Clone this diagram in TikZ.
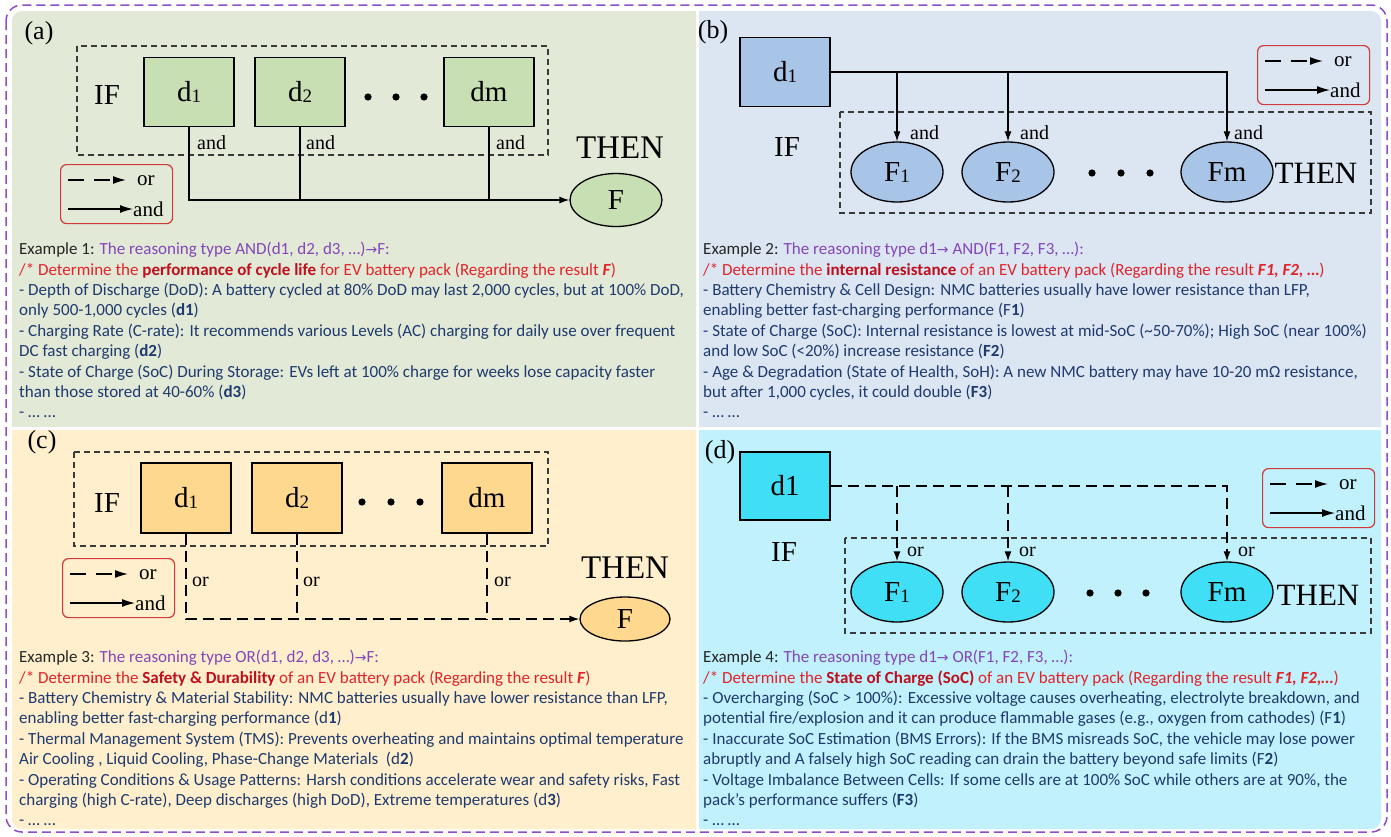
\documentclass[tikz,border=0pt]{standalone}
\usepackage{fontspec}
\setmainfont{Carlito}
\newfontfamily\tnr{Liberation Serif}
\newfontfamily\symf{DejaVu Sans}
\usetikzlibrary{shapes.geometric,arrows.meta}

\definecolor{frame}{HTML}{8E4FC6}
\definecolor{bgA}{HTML}{E2E9D6}
\definecolor{bgB}{HTML}{DCE6F3}
\definecolor{bgC}{HTML}{FFEFCC}
\definecolor{bgD}{HTML}{C0F1FC}
\definecolor{fillA}{HTML}{C7DFB2}
\definecolor{fillB}{HTML}{A8C4E6}
\definecolor{fillC}{HTML}{FDD88E}
\definecolor{fillD}{HTML}{40DFF5}
\definecolor{legred}{HTML}{D03A3A}
\definecolor{exgray}{HTML}{262626}
\definecolor{rpurple}{HTML}{8446B8}
\definecolor{rred}{HTML}{E0242A}
\definecolor{rdred}{HTML}{BE0F1C}
\definecolor{navy}{HTML}{1F3A6E}
\definecolor{boxgray}{HTML}{3A3A3A}

\newcommand\sub[1]{\raisebox{-1pt}{\fontsize{19}{19}\selectfont #1}}
\newcommand\arr{{\symf\fontsize{14}{14}\selectfont →}}
\newcommand\exhead[2]{{\color{exgray}Example #1:} {\color{rpurple}#2}}

\tikzset{
  sqbox/.style={draw=black, line width=1.3pt, minimum width=90pt, minimum height=69pt,
    inner sep=0pt, font=\tnr\fontsize{29}{29}\selectfont},
  ellnode/.style={ellipse, draw=black, line width=1.3pt, minimum width=92pt, minimum height=60pt,
    inner sep=0pt, font=\tnr\fontsize{29}{29}\selectfont},
  ifbox/.style={draw=boxgray, line width=1.1pt, dash pattern=on 6pt off 4pt},
  bigword/.style={font=\tnr\fontsize{29}{29}\selectfont, inner sep=0pt},
  thenword/.style={font=\tnr\fontsize{33}{33}\selectfont, inner sep=0pt},
  tag/.style={font=\tnr\fontsize{26}{26}\selectfont, inner sep=0pt},
  lbl/.style={font=\tnr\fontsize{20}{20}\selectfont, inner sep=0pt, anchor=west},
  legbox/.style={draw=legred, line width=1.2pt, rounded corners=6pt, minimum width=112pt,
    minimum height=59pt, inner sep=0pt},
  legtxt/.style={font=\tnr\fontsize{21}{21}\selectfont, inner sep=0pt, anchor=west},
  tip/.style={-{Latex[length=10pt,width=7pt]}},
  andline/.style={line width=1.2pt, tip},
  andplain/.style={line width=1.2pt},
  orline/.style={line width=1.4pt, dash pattern=on 11pt off 6pt, tip},
  orplain/.style={line width=1.4pt, dash pattern=on 11pt off 6pt},
  legor/.style={line width=1.4pt, dash pattern=on 16pt off 10pt, -{Latex[length=13pt,width=8pt]}},
  legand/.style={line width=1.2pt, -{Latex[length=13pt,width=8pt]}},
  extext/.style={anchor=north west, inner sep=0pt, align=left,
    font=\fontsize{17}{20.4}\selectfont, text=navy},
}

% legend: name, top-left corner
\newcommand\legend[2]{%
  \node[legbox, anchor=north west] (#1) at (#2) {};
  \coordinate (#1-o1) at ([xshift=8pt,yshift=-16pt]#1.north west);
  \coordinate (#1-o2) at ([xshift=66pt,yshift=-16pt]#1.north west);
  \coordinate (#1-a1) at ([xshift=8pt,yshift=-45pt]#1.north west);
  \coordinate (#1-a2) at ([xshift=73pt,yshift=-45pt]#1.north west);
  \draw[legor] (#1-o1) -- (#1-o2);
  \draw[legand] (#1-a1) -- (#1-a2);
  \node[legtxt] (#1-ot) at ([xshift=77pt,yshift=-17pt]#1.north west) {or};
  \node[legtxt] (#1-at) at ([xshift=73pt,yshift=-45pt]#1.north west) {and};
}

\begin{document}
\begin{tikzpicture}[x=1pt,y=-1pt]
\useasboundingbox (0,0) rectangle (1391,836);
\fill[white] (0,0) rectangle (1391,836);

% ---------- panel backgrounds ----------
\fill[bgA] (12,427) [rounded corners=10pt] -- (12,11) [sharp corners] -- (696,11) -- (696,427) -- cycle;
\fill[bgB] (699,11) [rounded corners=10pt] -- (1381,11) [sharp corners] -- (1381,427) -- (699,427) -- cycle;
\fill[bgC] (696,430) -- (696,829) [rounded corners=10pt] -- (12,829) [sharp corners] -- (12,430) -- cycle;
\fill[bgD] (699,430) -- (1381,430) [rounded corners=10pt] -- (1381,829) [sharp corners] -- (699,829) -- cycle;
\draw[frame, line width=1.5pt, dash pattern=on 9pt off 5pt, rounded corners=16pt] (6,5) rectangle (1387,832);

% ---------- (a) AND(d1,...,dm) -> F ----------
\node[tag] (ta) at (39,33) {(a)};
\draw[ifbox] (77,46) rectangle (548,155);
\node[bigword] (ifa) at (107,95) {IF};
\node[sqbox, fill=fillA] (d1a) at (189,92) {d\sub{1}};
\node[sqbox, fill=fillA] (d2a) at (300,92) {d\sub{2}};
\node[sqbox, fill=fillA] (dma) at (489,92) {dm};
\foreach \x in {368,396,424} \fill (\x,97) circle (3.6pt);
\node[ellnode, fill=fillA, minimum height=53pt] (Fa) at (616,200) {F};
\node[thenword] (thena) at (620,148) {THEN};
\draw[andline] (d1a.south) |- (Fa.west);
\draw[andplain] (d2a.south) -- (d2a.south |- Fa.west);
\draw[andplain] (dma.south) -- (dma.south |- Fa.west);
\node[lbl] (and1a) at (197,143) {and};
\node[lbl] (and2a) at (306,143) {and};
\node[lbl] (and3a) at (496,143) {and};
\legend{lega}{60,164}

\node[extext] (txa) at (19,242) {%
\exhead{1}{The reasoning type AND(d1, d2, d3, …)\arr F:}\\
{\color{rred}/* Determine the \textbf{\color{rdred}performance of cycle life} for EV battery pack (Regarding the result \textbf{\textit{F}})}\\
- Depth of Discharge (DoD): A battery cycled at 80\% DoD may last 2,000 cycles, but at 100\% DoD,\\
only 500-1,000 cycles (\textbf{d1})\\
- Charging Rate (C-rate): It recommends various Levels (AC) charging for daily use over frequent\\
DC fast charging (\textbf{d2})\\
- State of Charge (SoC) During Storage: EVs left at 100\% charge for weeks lose capacity faster\\
than those stored at 40-60\% (\textbf{d3})\\
- … …};

% ---------- (b) d1 -> AND(F1,...,Fm) ----------
\node[tag] (tb) at (713,32) {(b)};
\node[sqbox, fill=fillB] (d1b) at (785,72) {d\sub{1}};
\node[bigword] (ifb) at (787,147) {IF};
\draw[ifbox] (840,112) rectangle (1371,213);
\node[ellnode, fill=fillB] (F1b) at (897,172) {F\sub{1}};
\node[ellnode, fill=fillB] (F2b) at (1008,172) {F\sub{2}};
\node[ellnode, fill=fillB] (Fmb) at (1227,172) {Fm};
\foreach \x in {1092,1121,1150} \fill (\x,173) circle (3.6pt);
\node[thenword, font=\tnr\fontsize{31}{31}\selectfont] (thenb) at (1316,173) {THEN};
\draw[andline] (d1b.east) -| (Fmb.north);
\draw[andline] (d1b.east -| F1b.north) -- (F1b.north);
\draw[andline] (d1b.east -| F2b.north) -- (F2b.north);
\node[lbl] (and1b) at (910,133) {and};
\node[lbl] (and2b) at (1020,133) {and};
\node[lbl] (and3b) at (1234,133) {and};
\legend{legb}{1257,45}

\node[extext] (txb) at (703,242) {%
\exhead{2}{The reasoning type d1\arr{} AND(F1, F2, F3, …):}\\
{\color{rred}/* Determine the \textbf{\color{rdred}internal resistance} of an EV battery pack (Regarding the result \textbf{\textit{F1, F2, …}})}\\
- Battery Chemistry \& Cell Design: NMC batteries usually have lower resistance than LFP,\\
enabling better fast-charging performance (F\textbf{1})\\
- State of Charge (SoC): Internal resistance is lowest at mid-SoC (\textasciitilde50-70\%); High SoC (near 100\%)\\
and low SoC (<20\%) increase resistance (\textbf{F2})\\
- Age \& Degradation (State of Health, SoH): A new NMC battery may have 10-20 mΩ resistance,\\
but after 1,000 cycles, it could double (\textbf{F3})\\
- … …};

% ---------- (c) OR(d1,...,dm) -> F ----------
\node[tag] (tc) at (42,442) {(c)};
\draw[ifbox] (74,452) rectangle (548,546);
\node[bigword] (ifc) at (107,503) {IF};
\node[sqbox, fill=fillC, minimum height=70pt] (d1c) at (186,498) {d\sub{1}};
\node[sqbox, fill=fillC, minimum height=70pt] (d2c) at (297,498) {d\sub{2}};
\node[sqbox, fill=fillC, minimum height=70pt] (dmc) at (487,498) {dm};
\foreach \x in {362,391,420} \fill (\x,502) circle (3.6pt);
\node[ellnode, fill=fillC, minimum width=90pt, minimum height=44pt] (Fc) at (625,619) {F};
\node[thenword] (thenc) at (625,568) {THEN};
\draw[orline] (d1c.south) |- (Fc.west);
\draw[orplain] (d2c.south) -- (d2c.south |- Fc.west);
\draw[orplain] (dmc.south) -- (dmc.south |- Fc.west);
\node[lbl] (or1c) at (192,582) {or};
\node[lbl] (or2c) at (303,582) {or};
\node[lbl] (or3c) at (494,582) {or};
\legend{legc}{62,558}

\node[extext] (txc) at (19,650) {%
\exhead{3}{The reasoning type OR(d1, d2, d3, …)\arr F:}\\
{\color{rred}/* Determine the \textbf{\color{rdred}Safety \& Durability} of an EV battery pack (Regarding the result \textbf{\textit{F}})}\\
- Battery Chemistry \& Material Stability: NMC batteries usually have lower resistance than LFP,\\
enabling better fast-charging performance (d\textbf{1})\\
- Thermal Management System (TMS): Prevents overheating and maintains optimal temperature\\
Air Cooling , Liquid Cooling, Phase-Change Materials\ \ (d\textbf{2})\\
- Operating Conditions \& Usage Patterns: Harsh conditions accelerate wear and safety risks, Fast\\
charging (high C-rate), Deep discharges (high DoD), Extreme temperatures (d\textbf{3})\\
- … …};

% ---------- (d) d1 -> OR(F1,...,Fm) ----------
\node[tag] (td) at (720,452) {(d)};
\node[sqbox, fill=fillD, minimum height=68pt] (d1d) at (785,486) {d1};
\node[bigword] (ifd) at (784,552) {IF};
\draw[ifbox] (845,538) rectangle (1371,633);
\node[ellnode, fill=fillD] (F1d) at (897,592) {F\sub{1}};
\node[ellnode, fill=fillD] (F2d) at (1008,592) {F\sub{2}};
\node[ellnode, fill=fillD] (Fmd) at (1227,592) {Fm};
\foreach \x in {1090,1118,1146} \fill (\x,593) circle (3.6pt);
\node[thenword, font=\tnr\fontsize{31}{31}\selectfont] (thend) at (1318,595) {THEN};
\draw[orline] (d1d.east) -| (Fmd.north);
\draw[orline] (d1d.east -| F1d.north) -- (F1d.north);
\draw[orline] (d1d.east -| F2d.north) -- (F2d.north);
\node[lbl] (or1d) at (907,552) {or};
\node[lbl] (or2d) at (1019,552) {or};
\node[lbl] (or3d) at (1238,552) {or};
\legend{legd}{1262,468}

\node[extext] (txd) at (703,650) {%
\exhead{4}{The reasoning type d1\arr{} OR(F1, F2, F3, …):}\\
{\color{rred}/* Determine the \textbf{\color{rdred}State of Charge (SoC)} of an EV battery pack (Regarding the result \textbf{\textit{F1, F2,…}})}\\
- Overcharging (SoC > 100\%): Excessive voltage causes overheating, electrolyte breakdown, and\\
potential fire/explosion and it can produce flammable gases (e.g., oxygen from cathodes) (F\textbf{1})\\
- Inaccurate SoC Estimation (BMS Errors): If the BMS misreads SoC, the vehicle may lose power\\
abruptly and A falsely high SoC reading can drain the battery beyond safe limits (F\textbf{2})\\
- Voltage Imbalance Between Cells: If some cells are at 100\% SoC while others are at 90\%, the\\
pack’s performance suffers (\textbf{F3})\\
- … …};
\end{tikzpicture}
\end{document}
